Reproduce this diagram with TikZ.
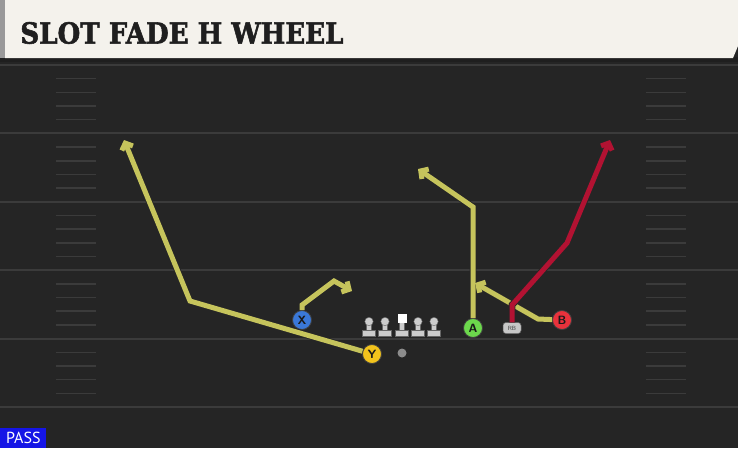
\documentclass[tikz,border=0pt]{standalone}
\usepackage{fontspec}
\usetikzlibrary{arrows.meta}
\newfontfamily\titlefont{DejaVu Serif}[BoldFeatures={FakeBold=2}]
\newfontfamily\tagfont{PT Sans}

\definecolor{fieldbg}{HTML}{252525}
\definecolor{titlebg}{HTML}{F4F2EC}
\definecolor{yardln}{HTML}{3B3B3B}
\definecolor{routeyel}{HTML}{C6C45C}
\definecolor{routered}{HTML}{B21232}
\definecolor{ycol}{HTML}{F2C31C}
\definecolor{xcol}{HTML}{3A78D8}
\definecolor{acol}{HTML}{6CD84C}
\definecolor{bcol}{HTML}{E8323C}
\definecolor{passblue}{HTML}{1515E6}

\tikzset{every picture/.style={line width=0.75pt}}

\begin{document}
\begin{tikzpicture}[x=1pt,y=1pt,yscale=-1,xscale=1,
	player/.style={circle, draw=black!75, line width=0.8pt, minimum size=19pt, inner sep=0pt, font=\sffamily\bfseries\fontsize{12}{12}\selectfont, text=black!90},
	route/.style={line width=5pt, line join=miter, preaction={draw=black!85, line width=6.8pt},
		-{Straight Barb[length=5.5pt,width=12pt]}},
	lineman/.style={fill=black!20, draw=black!60, line width=0.4pt}]
	\useasboundingbox (0,0) rectangle (738,448);
	%Field
	\fill[fieldbg] (0,0) rectangle (738,448);
	%Yard Lines
	\foreach \k in {0,...,5}
		\draw[yardln, line width=2pt] (0,{65+68.4*\k}) -- (738,{65+68.4*\k});
	%Hash Marks
	\foreach \k in {0,...,4}
		\foreach \j in {1,...,4} {
			\draw[yardln, line width=1.5pt] (56,{65+68.4*\k+13.68*\j}) -- (96,{65+68.4*\k+13.68*\j});
			\draw[yardln, line width=1.5pt] (646,{65+68.4*\k+13.68*\j}) -- (686,{65+68.4*\k+13.68*\j});
		}
	%Title Bar
	\fill[black!88] (0,57) rectangle (738,62);
	\fill[titlebg] (5,0) -- (738,0) -- (738,46) -- (733,58) -- (5,58) -- cycle;
	\fill[black!40] (0,0) rectangle (5,58);
	% Text Node
	\draw (20,33) node [anchor=west][inner sep=0pt, text=black!88] (title) {\scalebox{0.9}[1]{\titlefont\bfseries\fontsize{29}{29}\selectfont SLOT FADE H WHEEL}};

	%Linemen
	\foreach \lx in {369,385,418,434} {
		\fill[lineman] (\lx-6.5,330) rectangle (\lx+6.5,336.5);
		\fill[lineman] (\lx-2.5,322) rectangle (\lx+2.5,330);
		\fill[lineman] (\lx,321.5) circle (4.2);
	}
	%Center
	\fill[lineman] (395.5,330) rectangle (408.5,336.5);
	\fill[lineman] (399.5,322) rectangle (404.5,330);
	\fill[white] (397.5,314) rectangle (406.5,323);
	%Ball
	\fill[black!45] (402,353) circle (4.5);

	% Players
	\draw (372,354) node [player, fill=ycol] (Y) {Y};
	\draw (302,320) node [player, fill=xcol] (X) {X};
	\draw (473,328) node [player, fill=acol] (A) {A};
	\draw (562,320) node [player, fill=bcol] (B) {B};
	\draw (512,328) node [rounded corners=3pt, fill=black!22, draw=black!60, line width=0.5pt, minimum width=18pt, minimum height=11pt, inner sep=0pt, font=\sffamily\fontsize{6}{6}\selectfont, text=black!75] (RB) {RB};

	% Route points
	\coordinate (y1) at (190,301);
	\coordinate (y2) at (124,140);
	\coordinate (x1) at (302,305);
	\coordinate (x2) at (334,281);
	\coordinate (x3) at (352,291);
	\coordinate (a1) at (473,207);
	\coordinate (a2) at (418,169);
	\coordinate (b1) at (538,319);
	\coordinate (b2) at (475,283);
	\coordinate (r1) at (512,305);
	\coordinate (r2) at (567,243);
	\coordinate (r3) at (610,140);

	%Routes
	\draw [route, routeyel] (Y) -- (y1) -- (y2);
	\draw [route, routeyel] (X) -- (x1) -- (x2) -- (x3);
	\draw [route, routeyel] (A) -- (a1) -- (a2);
	\draw [route, routeyel] (B) -- (b1) -- (b2);
	\draw [route, routered] (RB) -- (r1) -- (r2) -- (r3);

	% Text Node
	\draw (0,448) node [anchor=south west][fill=passblue, text=white, inner sep=0pt, minimum width=46pt, minimum height=20pt, font=\tagfont\fontsize{16}{16}\selectfont] (tag) {PASS};
\end{tikzpicture}
\end{document}
